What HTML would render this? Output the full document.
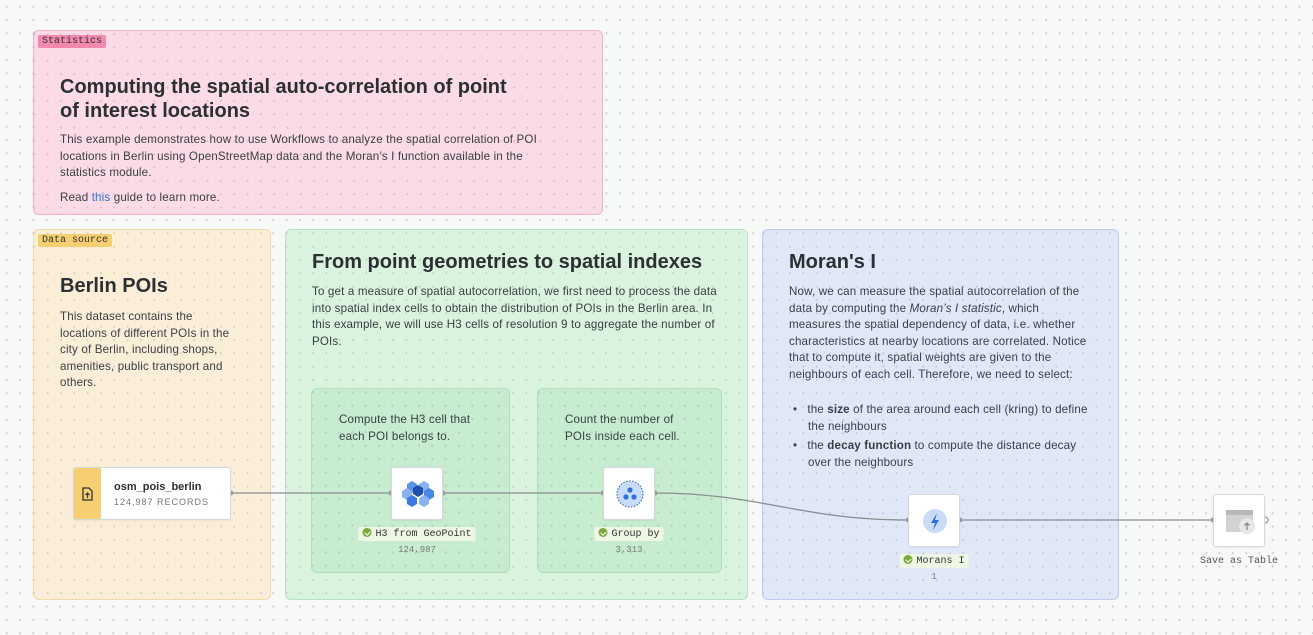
<!DOCTYPE html>
<html><head><meta charset="utf-8"><style>
*{margin:0;padding:0;box-sizing:border-box}
body{width:1313px;height:635px;overflow:hidden;background:#f7f8f8;position:relative;font-family:"Liberation Sans",sans-serif;color:#2c3033}
.grid{position:absolute;inset:0;background-image:radial-gradient(circle,#c9cccd 0.9px,transparent 1.2px);background-size:13.33px 13.33px;background-position:0px 0px}
.box{position:absolute;border-radius:6px;border:1px solid}
.box .g{position:absolute;inset:0;background-image:radial-gradient(circle,rgba(0,0,0,0.13) 0.9px,transparent 1.2px);background-size:13.33px 13.33px;background-position:-33px -30px}
.tag{position:absolute;left:4px;top:4px;font-family:"Liberation Mono",monospace;font-size:10px;padding:1px 4px;border-radius:2px;color:#333}
h1{position:absolute;font-size:20px;font-weight:bold;color:#2c3033;line-height:24px}
.p{position:absolute;font-size:11.6px;line-height:16.6px;color:#3a3f44;white-space:nowrap;letter-spacing:0.15px}
.node{position:absolute;background:#fff;border:1px solid #d6d9dc;border-radius:3px;box-shadow:0 1px 2px rgba(0,0,0,.06)}
.lab{position:absolute;font-family:"Liberation Mono",monospace;font-size:10px;color:#333;transform:translateX(-50%);white-space:nowrap}
.lab.b{background:#eef6e4;padding:1px 4px;border-radius:2px}
.ck{display:inline-block;width:9px;height:9px;border-radius:50%;background:#7aa83a;vertical-align:-1px;margin-right:4px;position:relative}
.ck:after{content:"";position:absolute;left:2.5px;top:1.5px;width:2.5px;height:4px;border:solid #fff;border-width:0 1.3px 1.3px 0;transform:rotate(45deg)}
.cnt{position:absolute;font-family:"Liberation Mono",monospace;font-size:9px;color:#777;transform:translateX(-50%)}
</style></head><body>
<div class="grid"></div>

<div class="box" style="left:33px;top:30px;width:570px;height:185px;background:#fbdbe5;border-color:#f0b2c6"><div class="g"></div>
<div class="tag" style="background:#f089ad">Statistics</div></div>
<h1 style="left:60px;top:75px;width:470px">Computing the spatial auto-correlation of point of interest locations</h1>
<div class="p" style="left:60px;top:132px">This example demonstrates how to use Workflows to analyze the spatial correlation of POI<br>locations in Berlin using OpenStreetMap data and the Moran’s I function available in the<br>statistics module.</div>
<div class="p" style="left:60px;top:190px">Read <span style="color:#2f6fd6">this</span> guide to learn more.</div>

<div class="box" style="left:33px;top:229px;width:238px;height:371px;background:#fbeed9;border-color:#f2d9a8"><div class="g"></div>
<div class="tag" style="background:#f5cf70">Data source</div></div>
<h1 style="left:60px;top:274px">Berlin POIs</h1>
<div class="p" style="left:60px;top:309px">This dataset contains the<br>locations of different POIs in the<br>city of Berlin, including shops,<br>amenities, public transport and<br>others.</div>

<div class="box" style="left:285px;top:229px;width:463px;height:371px;background:#d9f3de;border-color:#b8e2c1"><div class="g"></div></div>
<h1 style="left:312px;top:250px">From point geometries to spatial indexes</h1>
<div class="p" style="left:312px;top:284px">To get a measure of spatial autocorrelation, we first need to process the data<br>into spatial index cells to obtain the distribution of POIs in the Berlin area. In<br>this example, we will use H3 cells of resolution 9 to aggregate the number of<br>POIs.</div>
<div class="box" style="left:311px;top:388px;width:199px;height:185px;background:#c7ecd0;border-color:#b2dfbc"><div class="g"></div></div>
<div class="p" style="left:339px;top:412px">Compute the H3 cell that<br>each POI belongs to.</div>
<div class="box" style="left:537px;top:388px;width:185px;height:185px;background:#c7ecd0;border-color:#b2dfbc"><div class="g"></div></div>
<div class="p" style="left:565px;top:412px">Count the number of<br>POIs inside each cell.</div>

<div class="box" style="left:762px;top:229px;width:357px;height:371px;background:#e0e8f8;border-color:#bccbee"><div class="g"></div></div>
<h1 style="left:789px;top:250px">Moran's I</h1>
<div class="p" style="left:789px;top:284px">Now, we can measure the spatial autocorrelation of the<br>data by computing the <i>Moran’s I statistic</i>, which<br>measures the spatial dependency of data, i.e. whether<br>characteristics at nearby locations are correlated. Notice<br>that to compute it, spatial weights are given to the<br>neighbours of each cell. Therefore, we need to select:</div>
<div class="p" style="left:793px;top:402px">•&nbsp;&nbsp;&nbsp;the <b>size</b> of the area around each cell (kring) to define<br><span style="padding-left:15px">the neighbours</span></div>
<div class="p" style="left:793px;top:438px">•&nbsp;&nbsp;&nbsp;the <b>decay function</b> to compute the distance decay<br><span style="padding-left:15px">over the neighbours</span></div>

<svg style="position:absolute;left:0;top:0" width="1313" height="635">
<g stroke="#8a8d90" stroke-width="1.3" fill="none">
<path d="M231 493H391"/><path d="M443 493H603"/>
<path d="M655 493 C760 493 800 520 908 520"/><path d="M960 520H1213"/>
</g>
<g fill="#9a9da0"><circle cx="231" cy="493" r="2.5"/><circle cx="391" cy="493" r="2.5"/><circle cx="443" cy="493" r="2.5"/><circle cx="603" cy="493" r="2.5"/><circle cx="655" cy="493" r="2.5"/><circle cx="908" cy="520" r="2.5"/><circle cx="960" cy="520" r="2.5"/><circle cx="1213" cy="520" r="2.5"/></g>
<circle cx="1265" cy="520" r="3" fill="#fff" stroke="#9a9da0" stroke-width="1.3"/>
</svg>

<div class="node" style="left:73px;top:467px;width:158px;height:53px;overflow:hidden">
<div style="position:absolute;left:0;top:0;width:27px;height:53px;background:#f5cf70"></div>
<svg style="position:absolute;left:8px;top:19px" width="11" height="14"><path d="M1 1h6l3 3v9H1z" fill="none" stroke="#333" stroke-width="1.3"/><path d="M5.5 11V6M3.5 8l2-2 2 2" stroke="#333" stroke-width="1.2" fill="none"/></svg>
<div style="position:absolute;left:40px;top:13px;font-size:11px;font-weight:bold;color:#2c3033">osm_pois_berlin</div>
<div style="position:absolute;left:40px;top:29px;font-size:9px;letter-spacing:1px;color:#777">124,987 RECORDS</div>
</div>

<div class="node" style="left:391px;top:467px;width:52px;height:53px">
<svg width="52" height="53"><g>
<polygon points="15,16 20,13 25,16 25,22 20,25 15,22" fill="#5c92e6"/>
<polygon points="27,16 32,13 37,16 37,22 32,25 27,22" fill="#8ab2ef"/>
<polygon points="10,23 15,20 20,23 20,29 15,32 10,29" fill="#8ab2ef"/>
<polygon points="32,23 37,20 42,23 42,29 37,32 32,29" fill="#4a86e6"/>
<polygon points="15,30 20,27 25,30 25,36 20,39 15,36" fill="#3b78df"/>
<polygon points="27,30 32,27 37,30 37,36 32,39 27,36" fill="#8ab2ef"/>
<polygon points="21,20 26,17 31,20 31,26 26,29 21,26" fill="#1f4fae"/></g></svg></div>
<div class="lab b" style="left:417px;top:527px"><span class="ck"></span>H3 from GeoPoint</div>
<div class="cnt" style="left:417px;top:545px">124,987</div>

<div class="node" style="left:603px;top:467px;width:52px;height:53px">
<svg width="52" height="53"><circle cx="26" cy="26" r="13" fill="#c8dbf8" stroke="#2d5fb8" stroke-width="1" stroke-dasharray="1.5 1.5"/><circle cx="26" cy="22" r="2.6" fill="#2f6fd6"/><circle cx="22" cy="29" r="2.6" fill="#2f6fd6"/><circle cx="30" cy="29" r="2.6" fill="#2f6fd6"/></svg></div>
<div class="lab b" style="left:629px;top:527px"><span class="ck"></span>Group by</div>
<div class="cnt" style="left:629px;top:545px">3,313</div>

<div class="node" style="left:908px;top:494px;width:52px;height:53px">
<svg width="52" height="53"><circle cx="26" cy="26" r="12" fill="#c8dbf8"/><path d="M28 18l-6 10h4l-2 7 6-10h-4z" fill="#2f6fd6"/></svg></div>
<div class="lab b" style="left:934px;top:554px"><span class="ck"></span>Morans I</div>
<div class="cnt" style="left:934px;top:572px">1</div>

<div class="node" style="left:1213px;top:494px;width:52px;height:53px">
<svg width="52" height="53"><rect x="12" y="15" width="27" height="22" rx="1" fill="#d2d2d2"/><rect x="12" y="15" width="27" height="5" fill="#b8b8b8"/><circle cx="33" cy="31" r="8" fill="#e8e8e8"/><path d="M33 35v-7M30.5 30.5l2.5-2.5 2.5 2.5" stroke="#888" stroke-width="1.3" fill="none"/></svg></div>
<div class="lab" style="left:1239px;top:556px;color:#555">Save as Table</div>
</body></html>
